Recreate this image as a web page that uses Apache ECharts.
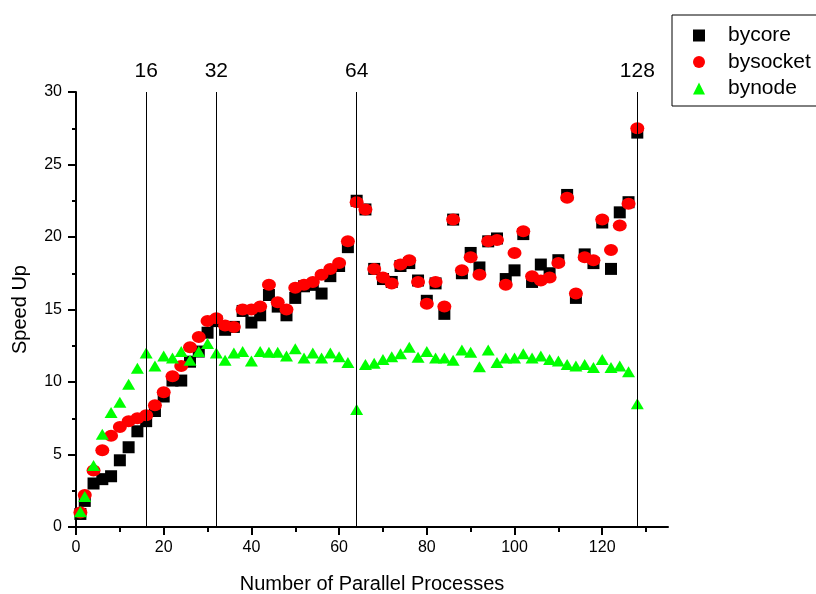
<!DOCTYPE html>
<html>
<head>
<meta charset="utf-8">
<script src="https://cdn.jsdelivr.net/npm/echarts@6/dist/echarts.min.js"></script>
<style>
html,body{margin:0;padding:0;background:#fff;}
#chart{width:816px;height:594px;}
</style>
</head>
<body>
<div id="chart"></div>
<script>
var xValues = [1,2,4,6,8,10,12,14,16,18,20,22,24,26,28,30,32,34,36,38,40,42,44,46,48,50,52,54,56,58,60,62,64,66,68,70,72,74,76,78,80,82,84,86,88,90,92,94,96,98,100,102,104,106,108,110,112,114,116,118,120,122,124,126,128];
var bycore = [0.9,1.8,3.0,3.3,3.5,4.6,5.5,6.6,7.3,8.0,9.0,10.1,10.1,11.4,12.1,13.4,14.2,13.6,13.8,14.9,14.1,14.6,16.0,15.2,14.6,15.8,16.6,16.7,16.1,17.3,18.0,19.3,22.5,21.9,17.8,17.1,16.9,18.0,18.2,17.0,15.6,16.8,14.7,21.2,17.5,18.9,17.9,19.7,19.9,17.1,17.7,20.2,16.9,18.1,17.5,18.4,22.9,15.8,18.8,18.2,21.0,17.8,21.7,22.4,27.2];
var bysocket = [1.0,2.2,3.9,5.3,6.3,6.9,7.3,7.5,7.7,8.4,9.3,10.4,11.1,12.4,13.1,14.2,14.4,13.9,13.8,15.0,15.0,15.2,16.7,15.5,15.0,16.5,16.7,16.9,17.4,17.8,18.2,19.7,22.4,21.9,17.8,17.2,16.8,18.1,18.4,16.9,15.4,16.9,15.2,21.2,17.7,18.6,17.4,19.7,19.8,16.7,18.9,20.4,17.3,17.0,17.2,18.2,22.7,16.1,18.6,18.4,21.2,19.1,20.8,22.3,27.5];
var bynode = [1.05,2.1,4.25,6.4,7.9,8.6,9.85,10.95,12.0,11.1,11.8,11.65,12.1,11.5,12.1,12.65,12.0,11.5,12.0,12.1,11.45,12.1,12.05,12.05,11.8,12.3,11.65,12.0,11.65,12.0,11.75,11.35,8.1,11.2,11.3,11.55,11.75,11.95,12.4,11.7,12.1,11.65,11.65,11.5,12.2,12.05,11.05,12.2,11.35,11.65,11.65,11.95,11.65,11.8,11.55,11.45,11.2,11.1,11.2,11.0,11.55,11.0,11.1,10.7,8.5];
var refLines = [16,32,64,128];
var xMajorTicks = [0,20,40,60,80,100,120];
var xMinorTicks = [10,30,50,70,90,110,130];

function pairs(xs, ys){ return xs.map(function(x,i){ return [x, ys[i]]; }); }

var FONT = "'Liberation Sans', Arial, sans-serif";
var chart = echarts.init(document.getElementById('chart'), null, {renderer:'canvas'});
chart.setOption({
  animation:false,
  backgroundColor:'#fff',
  textStyle:{fontFamily:FONT, color:'#000'},
  grid:{left:76, right:148, top:92, bottom:67, outerBoundsMode:'none', containLabel:false},
  legend:{
    orient:'vertical', left:672, top:15,
    borderColor:'#000', borderWidth:1,
    padding:[10,6,7,21],
    itemWidth:12, itemHeight:12, itemGap:5.5,
    textStyle:{fontSize:21, lineHeight:21, color:'#000', fontFamily:FONT, padding:[0,0,0,18]},
    data:['bycore','bysocket','bynode']
  },
  xAxis:[{
    type:'value', min:0, max:135,
    name:'Number of Parallel Processes', nameLocation:'middle', nameGap:47,
    nameTextStyle:{fontSize:20, color:'#000', fontFamily:FONT},
    axisLine:{show:true, lineStyle:{color:'#000', width:2}},
    axisTick:{show:true, customValues:xMajorTicks, length:8, lineStyle:{color:'#000', width:2}},
    axisLabel:{customValues:xMajorTicks, fontSize:16, color:'#000', margin:13, fontFamily:FONT},
    splitLine:{show:false}
  },{
    type:'value', min:0, max:135, position:'bottom', gridIndex:0,
    axisLine:{show:false},
    axisTick:{show:true, customValues:xMinorTicks, length:5, lineStyle:{color:'#000', width:2}},
    axisLabel:{show:false},
    splitLine:{show:false}
  }],
  yAxis:{
    type:'value', min:0, max:30, interval:5,
    name:'Speed Up', nameLocation:'middle', nameGap:46,
    nameTextStyle:{fontSize:20, color:'#000', fontFamily:FONT},
    axisLine:{show:true, lineStyle:{color:'#000', width:2}},
    axisTick:{show:true, length:8, lineStyle:{color:'#000', width:2}},
    minorTick:{show:true, splitNumber:2, length:4, lineStyle:{color:'#000', width:2}},
    axisLabel:{fontSize:16, color:'#000', margin:14, fontFamily:FONT},
    splitLine:{show:false}
  },
  series:[
    {
      name:'bycore', type:'scatter', symbol:'rect', symbolSize:12,
      itemStyle:{color:'#000000', opacity:1}, data:pairs(xValues, bycore), z:2,
      markLine:{
        silent:true, symbol:'none',
        lineStyle:{color:'#000', width:1, type:'solid'},
        label:{show:true, position:'end', formatter:'{c}', fontSize:21, color:'#000', distance:10, fontFamily:FONT},
        data:refLines.map(function(v){ return {xAxis:v}; })
      }
    },
    {
      name:'bysocket', type:'scatter', symbol:'circle', symbolSize:[14,12],
      itemStyle:{color:'#ff0000', opacity:1}, data:pairs(xValues, bysocket), z:3
    },
    {
      name:'bynode', type:'scatter', symbol:'triangle', symbolSize:[13,11],
      itemStyle:{color:'#00ff00', opacity:1}, data:pairs(xValues, bynode), z:4
    }
  ]
});
</script>
</body>
</html>
